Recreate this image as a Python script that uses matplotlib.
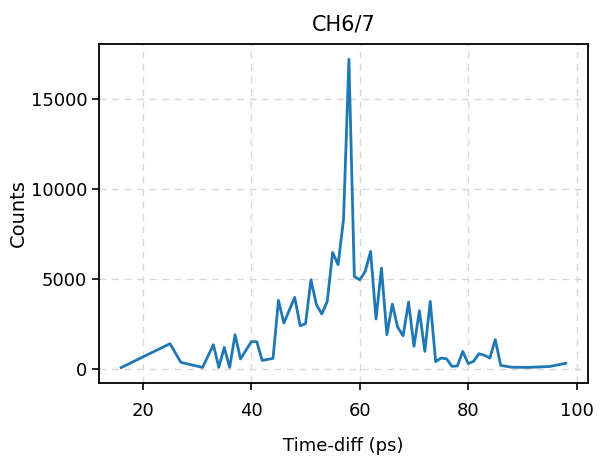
import matplotlib
matplotlib.use("Agg")
import matplotlib.pyplot as plt
from matplotlib.ticker import MultipleLocator

# time difference (ps) and counts
time_diff = [16, 25, 27, 31, 33, 34, 35, 36, 37, 38, 40, 41, 42, 44, 45, 46,
             48, 49, 50, 51, 52, 53, 54, 55, 56, 57, 58, 59, 60, 61, 62, 63,
             64, 65, 66, 67, 68, 69, 70, 71, 72, 73, 74, 75, 76, 77, 78, 79,
             80, 81, 82, 83, 84, 85, 86, 88, 91, 95, 98]
counts = [60, 1390, 350, 70, 1330, 70, 1180, 70, 1890, 540, 1500, 1500, 460,
          570, 3800, 2540, 3960, 2390, 2500, 4940, 3560, 3040, 3740, 6460,
          5780, 8280, 17200, 5130, 4940, 5400, 6520, 2760, 5590, 1890, 3590,
          2300, 1830, 3700, 1240, 3220, 960, 3740, 390, 590, 550, 130, 150,
          960, 280, 410, 830, 740, 590, 1610, 180, 80, 70, 120, 300]

fig = plt.figure(figsize=(6, 4.62), dpi=100)
ax = fig.add_axes([0.165, 0.171, 0.815, 0.734])

ax.plot(time_diff, counts, color="#1f77b4", lw=2)
ax.grid(True, ls=(0, (5, 4)), color="#d8d8d8", lw=1)
ax.set_axisbelow(True)
ax.yaxis.set_major_locator(MultipleLocator(5000))

ax.set_title("CH6/7", fontsize=15, pad=10)
ax.set_xlabel("Time-diff (ps)", fontsize=13, labelpad=12)
ax.set_ylabel("Counts", fontsize=14, labelpad=2)
ax.tick_params(labelsize=13, width=1.2, length=5)
ax.tick_params(axis="x", pad=9)
for sp in ax.spines.values():
    sp.set_linewidth(1.3)

fig.savefig("out.png", dpi=100)
